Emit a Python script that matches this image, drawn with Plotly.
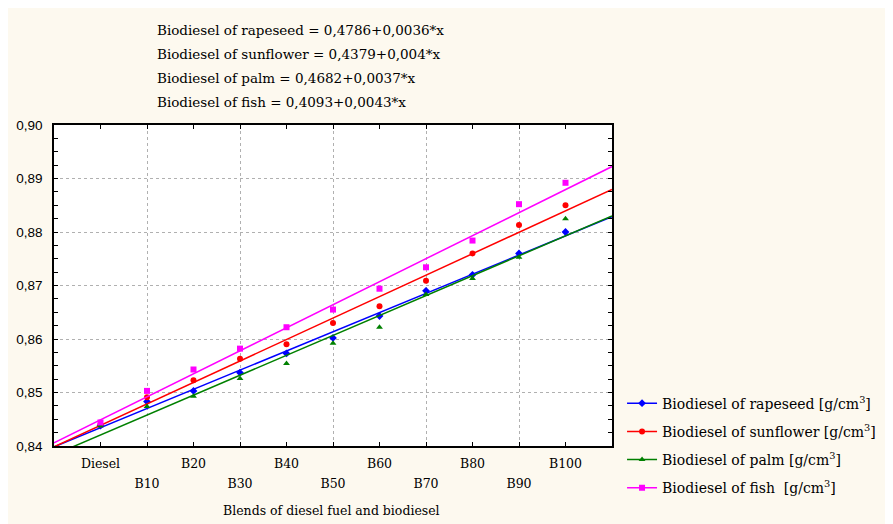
import numpy as np
import plotly.graph_objects as go

categories = ["Diesel", "B10", "B20", "B30", "B40", "B50", "B60", "B70", "B80", "B90", "B100"]
xpos = [1, 2, 3, 4, 5, 6, 7, 8, 9, 10, 11]

rapeseed = [0.8438, 0.8483, 0.8503, 0.8537, 0.8573, 0.8602, 0.8643, 0.8690, 0.8720, 0.8760, 0.8800]
sunflower = [0.8440, 0.8491, 0.8523, 0.8563, 0.8590, 0.8630, 0.8661, 0.8709, 0.8760, 0.8813, 0.8850]
palm = [0.8438, 0.8474, 0.8493, 0.8526, 0.8554, 0.8592, 0.8622, 0.8683, 0.8713, 0.8753, 0.8825]
fish = [0.8444, 0.8503, 0.8543, 0.8582, 0.8622, 0.8655, 0.8694, 0.8734, 0.8784, 0.8852, 0.8892]

equations = [
    "Biodiesel of rapeseed = 0,4786+0,0036*x",
    "Biodiesel of sunflower = 0,4379+0,004*x",
    "Biodiesel of palm = 0,4682+0,0037*x",
    "Biodiesel of fish = 0,4093+0,0043*x",
]
y_ticks = [0.84, 0.85, 0.86, 0.87, 0.88, 0.89, 0.90]

names = ["Biodiesel of rapeseed [g/cm<sup>3</sup>]",
         "Biodiesel of sunflower [g/cm<sup>3</sup>]",
         "Biodiesel of palm [g/cm<sup>3</sup>]",
         "Biodiesel of fish  [g/cm<sup>3</sup>]"]
series = [rapeseed, sunflower, palm, fish]
colors = ["#0000FF", "#FF0000", "#008000", "#FF00FF"]
symbols = ["diamond", "circle", "triangle-up", "square"]

serif = "DejaVu Serif"
sans = "Liberation Sans"

fig = go.Figure()
xline = np.array([0, 12])
for i, (name, ys, c, s) in enumerate(zip(names, series, colors, symbols)):
    k, b = np.polyfit(xpos, ys, 1)
    fig.add_trace(go.Scatter(x=xline, y=k * xline + b, mode="lines",
                             line=dict(color=c, width=1.5), showlegend=False,
                             hoverinfo="skip"))
    fig.add_trace(go.Scatter(x=xpos, y=ys, mode="markers", showlegend=False,
                             marker=dict(color=c, symbol=s, size=6)))
    # legend entry (line + marker)
    fig.add_trace(go.Scatter(x=[None], y=[None], mode="lines+markers", name=name,
                             line=dict(color=c, width=1.5),
                             marker=dict(color=c, symbol=s, size=6),
                             legendgroup=f"g{i}"))

eq_y = [1.297, 1.222, 1.146, 1.073]
for eq, yy in zip(equations, eq_y):
    fig.add_annotation(text=eq, xref="paper", yref="paper",
                       x=0.181, y=yy,
                       xanchor="left", yanchor="middle", showarrow=False,
                       font=dict(family=serif, size=13.5, color="black"))

fig.add_annotation(text="Blends of diesel fuel and biodiesel", xref="paper", yref="paper",
                   x=0.498, y=-0.2, xanchor="center", yanchor="middle", showarrow=False,
                   font=dict(family=serif, size=12.5, color="black"))

odd_idx = [i for i in range(len(xpos)) if i % 2 == 0]
even_idx = [i for i in range(len(xpos)) if i % 2 == 1]

fig.update_layout(
    template="none",
    width=885, height=516,
    margin=dict(l=46, r=281, t=117, b=78),
    paper_bgcolor="#FDF9EF",
    plot_bgcolor="white",
    separators=",.",
    font=dict(family=serif, size=12, color="black"),
    showlegend=True,
    legend=dict(x=1.018, y=0.182, xanchor="left", yanchor="top",
                font=dict(family=serif, size=14, color="black"),
                tracegroupgap=7, bgcolor="rgba(0,0,0,0)", itemwidth=30),
    xaxis=dict(range=[0, 12], tickmode="array",
               tickvals=[xpos[i] for i in odd_idx],
               ticktext=[categories[i] for i in odd_idx],
               ticks="inside", ticklen=4, tickcolor="black", tickwidth=1,
               showline=True, linecolor="black", linewidth=1.5, mirror="allticks",
               showgrid=False, zeroline=False, ticklabelstandoff=5,
               tickfont=dict(family=serif, size=12.5)),
    xaxis2=dict(range=[0, 12], overlaying="x", side="bottom", anchor="y",
                tickmode="array",
                tickvals=[xpos[i] for i in even_idx],
                ticktext=[categories[i] for i in even_idx],
                ticks="inside", ticklen=4, tickcolor="black", tickwidth=1,
                showline=True, linecolor="black", linewidth=1.5, mirror="allticks",
                ticklabelstandoff=25,
                showgrid=True, gridcolor="#B0B0B0", griddash="dot", gridwidth=1,
                zeroline=False, tickfont=dict(family=serif, size=12.5)),
    yaxis=dict(range=[0.84, 0.90], tickmode="array", tickvals=y_ticks,
               tickformat=".2f", ticks="inside", ticklen=4, tickcolor="black",
               showline=True, linecolor="black", linewidth=1.5, mirror="allticks",
               showgrid=True, gridcolor="#B0B0B0", griddash="dot", gridwidth=1,
               zeroline=False, ticklabelstandoff=7,
               minor=dict(dtick=0.0025, ticks="inside", ticklen=3, tickcolor="black",
                          showgrid=False),
               tickfont=dict(family=sans, size=13.5)),
)
fig.add_trace(go.Scatter(x=[None], y=[None], xaxis="x2", showlegend=False))

fig.write_html("out.html")
